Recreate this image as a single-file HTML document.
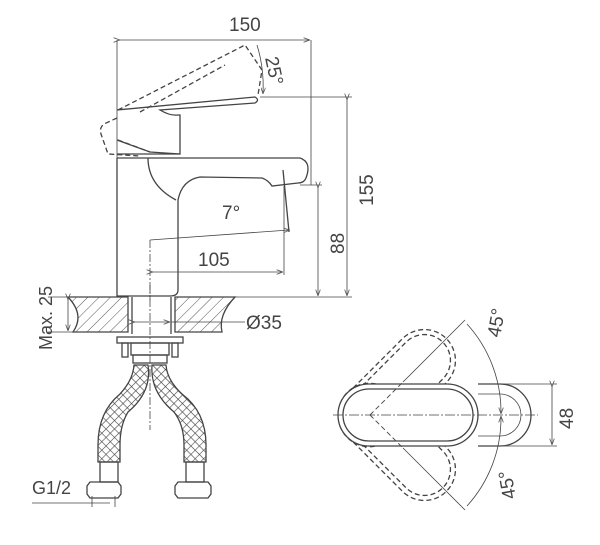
<!DOCTYPE html>
<html><head><meta charset="utf-8"><style>
html,body{margin:0;padding:0;background:#fff;}
svg{display:block;}
text{font-family:"Liberation Sans",sans-serif;fill:#444;}
</style></head><body>
<svg width="600" height="545" viewBox="0 0 600 545" xmlns="http://www.w3.org/2000/svg">
<defs>
<pattern id="h" width="8" height="8" patternUnits="userSpaceOnUse" patternTransform="rotate(45)">
<line x1="0" y1="0" x2="0" y2="8" stroke="#555" stroke-width="1"/></pattern>
<pattern id="x" width="6" height="6" patternUnits="userSpaceOnUse" patternTransform="rotate(45)">
<rect width="6" height="6" fill="#fff"/><path d="M0 0V6M0 0H6" stroke="#444" stroke-width="1.2"/></pattern>
<marker id="a" markerWidth="8" markerHeight="6" refX="7" refY="3" orient="auto"><path d="M0 0L8 3L0 6" fill="none" stroke="#555"/></marker>
</defs>
<g fill="none" stroke="#444" stroke-width="1.3">
<line x1="117" y1="40" x2="117" y2="160" stroke-width="0.8"/>
<line x1="311" y1="40" x2="311" y2="185" stroke-width="0.8"/>
<line x1="119" y1="40" x2="309" y2="40" stroke-width="0.8" marker-start="url(#a)" marker-end="url(#a)"/>
<path d="M118 110 L245 45 L262 70 L258 95" stroke-dasharray="5,3"/>
<path d="M140 112 L225 65" stroke-dasharray="5,3"/>
<path d="M257 45 A140 140 0 0 1 263 93" stroke-width="0.8" marker-end="url(#a)"/>
<path d="M117 118 L104 124 Q99 128 101 134 L108 154 L140 156" stroke-dasharray="5,3"/>
<path d="M118 140 L150 152" stroke-dasharray="5,3"/>
<path d="M117 110 L255 97 Q260 100 255 103 L160 110 Q170 116 178 115 L180 115 L180 154 L117 154"/>
<path d="M117 140 L150 152 L180 154"/>
<path d="M117 158 L300 158 Q312 162 306 178 Q304 183 298 183 L272 186 Q268 180 262 178 L200 177 Q182 180 178 200 L178 290 Q178 296 170 296 L117 296 L117 158"/>
<path d="M148 158 Q148 185 176 200"/>
<path d="M283 170 L289 232"/>
<path d="M150 240 Q220 235 289 230" stroke-width="0.8" marker-end="url(#a)"/>
<line x1="150" y1="240" x2="150" y2="300" stroke-width="0.8" stroke-dasharray="8,2,2,2"/>
<line x1="284" y1="186" x2="284" y2="275" stroke-width="0.8"/>
<line x1="152" y1="272" x2="282" y2="272" stroke-width="0.8" marker-start="url(#a)" marker-end="url(#a)"/>
<line x1="260" y1="97" x2="352" y2="97" stroke-width="0.8"/>
<line x1="300" y1="185" x2="322" y2="185" stroke-width="0.8"/>
<line x1="347" y1="99" x2="347" y2="295" stroke-width="0.8" marker-start="url(#a)" marker-end="url(#a)"/>
<line x1="318" y1="187" x2="318" y2="295" stroke-width="0.8" marker-start="url(#a)" marker-end="url(#a)"/>
<line x1="175" y1="297" x2="352" y2="297" stroke-width="0.8"/>
<path d="M68 297 L128 297 L128 332 L73 332 Q85 315 68 297Z" fill="url(#h)"/>
<path d="M175 297 L235 297 Q218 315 222 332 L175 332Z" fill="url(#h)"/>
<line x1="48" y1="297" x2="68" y2="297" stroke-width="0.8"/>
<line x1="48" y1="332" x2="73" y2="332" stroke-width="0.8"/>
<line x1="68" y1="299" x2="68" y2="330" stroke-width="0.8" marker-start="url(#a)" marker-end="url(#a)"/>
<line x1="132" y1="297" x2="132" y2="334"/><line x1="171" y1="297" x2="171" y2="334"/>
<line x1="134" y1="322" x2="169" y2="322" stroke-width="0.8" marker-start="url(#a)" marker-end="url(#a)"/>
<line x1="171" y1="322" x2="245" y2="322" stroke-width="0.8"/>
<rect x="117" y="337" width="66" height="6"/>
<rect x="122" y="343" width="6" height="14"/><rect x="172" y="343" width="6" height="14"/>
<rect x="131" y="343" width="38" height="12"/>
<rect x="133" y="355" width="34" height="8"/>
<path d="M134 365 L148 365 Q152 392 128 412 Q120 425 120 445 L120 462 L98 462 L98 445 Q98 412 120 394 Q133 380 134 365Z" fill="url(#x)"/>
<path d="M166 365 L152 365 Q150 392 174 412 Q184 425 184 445 L184 462 L206 462 L206 445 Q206 412 182 394 Q167 380 166 365Z" fill="url(#x)"/>
<rect x="100" y="462" width="18" height="20"/><rect x="186" y="462" width="18" height="20"/>
<path d="M90 482 L118 482 L121 486 L121 494 L118 498 L90 498 L87 494 L87 486Z"/>
<path d="M178 482 L208 482 L211 486 L211 494 L208 498 L178 498 L175 494 L175 486Z"/>
<line x1="150" y1="285" x2="150" y2="430" stroke-width="0.8" stroke-dasharray="8,2,2,2"/>
<line x1="32" y1="503" x2="110" y2="503" stroke-width="0.8"/>
<line x1="92" y1="496" x2="92" y2="507" stroke-width="0.8"/><line x1="115" y1="496" x2="115" y2="507" stroke-width="0.8"/>
<!-- top view -->
<g transform="rotate(-45 370 415)" stroke-dasharray="5,3">
<rect x="338" y="384" width="140" height="62" rx="31"/><rect x="343" y="389" width="130" height="52" rx="26"/></g>
<g transform="rotate(45 370 415)" stroke-dasharray="5,3">
<rect x="338" y="384" width="140" height="62" rx="31"/><rect x="343" y="389" width="130" height="52" rx="26"/></g>
<path d="M478 384 L500 384 A31 31 0 0 1 500 446 L478 446"/>
<path d="M478 394 L500 394 A21 21 0 0 1 500 436 L478 436" stroke-width="0.8"/>
<rect x="338" y="384" width="140" height="62" rx="31" fill="#fff"/>
<rect x="343" y="389" width="130" height="52" rx="26"/>
<path d="M370 415 L403 382 M370 415 L403 448" stroke-dasharray="5,3" stroke-width="0.9"/>
<line x1="333" y1="415" x2="538" y2="415" stroke-width="0.8" stroke-dasharray="10,2,2,2"/>
<line x1="500" y1="384" x2="557" y2="384" stroke-width="0.8"/>
<line x1="500" y1="446" x2="557" y2="446" stroke-width="0.8"/>
<line x1="552" y1="386" x2="552" y2="444" stroke-width="0.8" marker-start="url(#a)" marker-end="url(#a)"/>
<line x1="403" y1="382" x2="465" y2="320" stroke-width="0.8"/>
<line x1="403" y1="448" x2="465" y2="510" stroke-width="0.8"/>
<path d="M467 324 A131 131 0 0 1 501 413" stroke-width="0.8" marker-end="url(#a)"/>
<path d="M467 506 A131 131 0 0 0 501 417" stroke-width="0.8" marker-end="url(#a)"/>
</g>
<text x="229" y="31" font-size="19">150</text>
<text transform="translate(265,58) rotate(78)" font-size="19">25°</text>
<text x="222" y="219" font-size="19">7°</text>
<text x="198" y="266" font-size="19">105</text>
<text transform="translate(373,206) rotate(-90)" font-size="19">155</text>
<text transform="translate(344,254) rotate(-90)" font-size="19">88</text>
<text transform="translate(52,350) rotate(-90)" font-size="18">Max. 25</text>
<text x="246" y="329" font-size="19">Ø35</text>
<text x="32" y="494" font-size="18">G1/2</text>
<text transform="translate(573,429) rotate(-90)" font-size="19">48</text>
<text transform="translate(500,338) rotate(-80)" font-size="19">45°</text>
<text transform="translate(516,498) rotate(-100)" font-size="19">45°</text>
</svg>
</body></html>
